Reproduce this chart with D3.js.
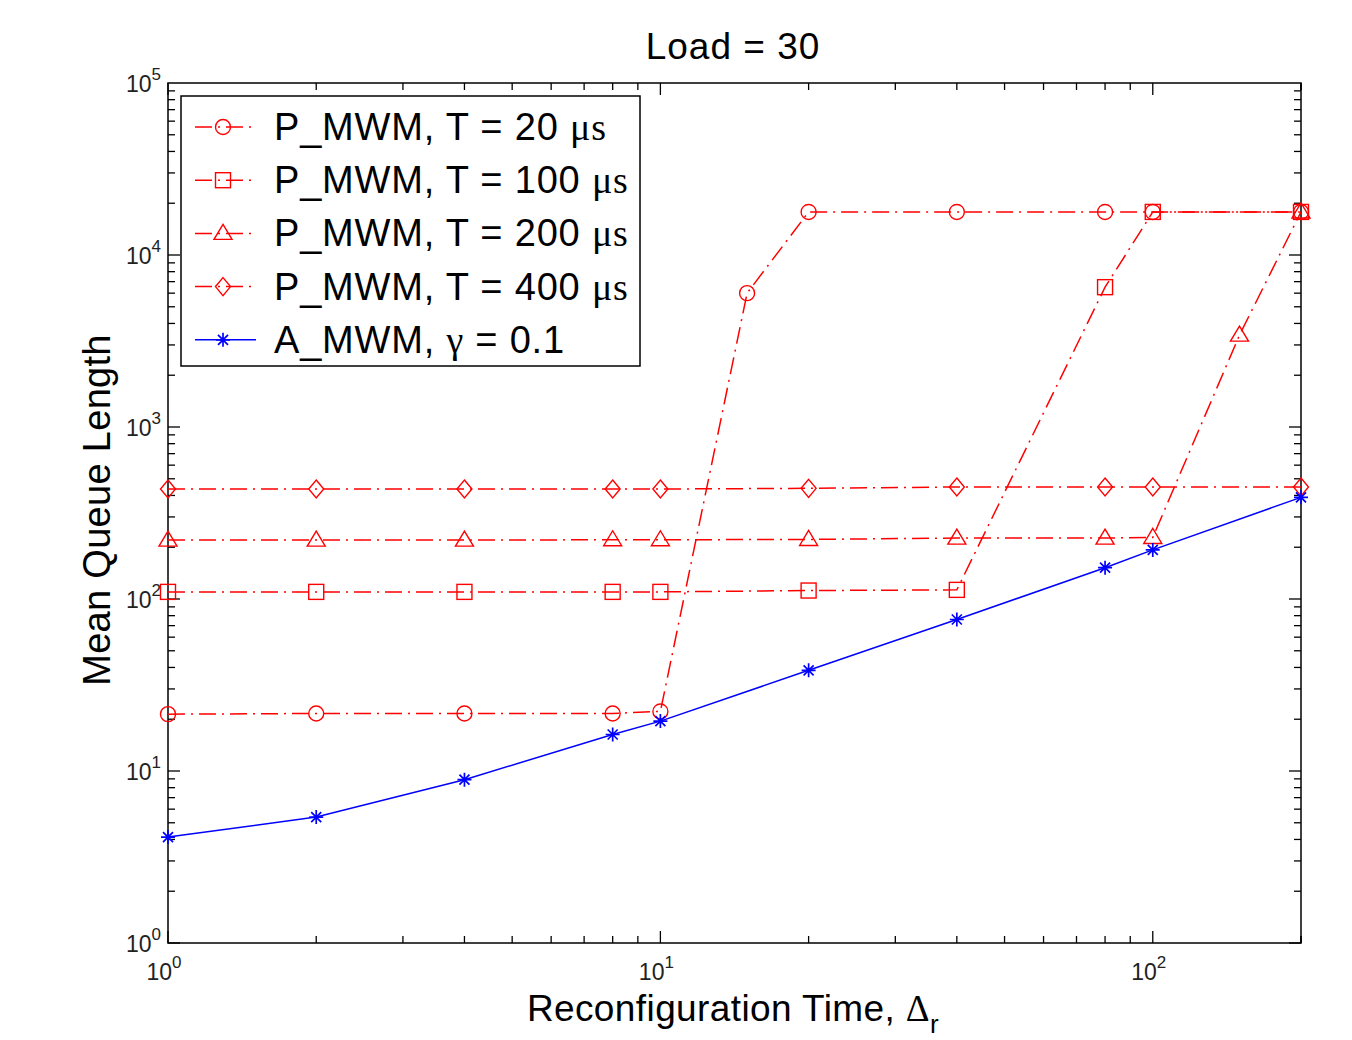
<!DOCTYPE html>
<html>
<head>
<meta charset="utf-8">
<script src="https://cdn.jsdelivr.net/npm/d3@7"></script>
<style>
  body { margin: 0; background: #fff; }
  svg { display: block; }
</style>
</head>
<body>
<svg id="chart" width="1352" height="1040"></svg>
<script>
// x positions (reconfiguration time)
const xBase = [1, 2, 4, 8, 10, 20, 40, 80, 100, 200];

// P_MWM series (mean queue length)
const xT20 = [1, 2, 4, 8, 10, 15, 20, 40, 80, 100, 200];
const yT20 = [21.4, 21.6, 21.6, 21.6, 22.2, 6000, 17800, 17800, 17800, 17800, 17800];

const xT100 = [1, 2, 4, 8, 10, 20, 40, 80, 100, 200];
const yT100 = [110, 110, 110, 110, 110, 112, 113, 6500, 17800, 17800];

const xT200 = [1, 2, 4, 8, 10, 20, 40, 80, 100, 150, 200];
const yT200 = [220, 220, 220, 221, 221, 222, 226, 226, 228, 3420, 17800];

const xT400 = [1, 2, 4, 8, 10, 20, 40, 80, 100, 200];
const yT400 = [436, 436, 436, 436, 436, 440, 448, 448, 448, 448];

// A_MWM
const yAMWM = [4.13, 5.4, 8.9, 16.3, 19.5, 38.5, 76, 152, 193, 390];

const yTicks = [1, 10, 100, 1000, 10000, 100000];
const xTicks = [1, 10, 100];

const series = [
  { name: "P_MWM, T = 20 ", unit: "μs", xs: xT20, ys: yT20, color: "red", marker: "circle", dash: true },
  { name: "P_MWM, T = 100 ", unit: "μs", xs: xT100, ys: yT100, color: "red", marker: "square", dash: true },
  { name: "P_MWM, T = 200 ", unit: "μs", xs: xT200, ys: yT200, color: "red", marker: "triangle", dash: true },
  { name: "P_MWM, T = 400 ", unit: "μs", xs: xT400, ys: yT400, color: "red", marker: "diamond", dash: true },
  { name: "A_MWM, ", greek: "γ", tail: " = 0.1", xs: xBase, ys: yAMWM, color: "blue", marker: "star", dash: false }
];

const svg = d3.select("#chart");
const m = { left: 168, right: 1301, top: 83, bottom: 943 };

const x = d3.scaleLog().domain([1, 200]).range([m.left, m.right]);
const y = d3.scaleLog().domain([1, 100000]).range([m.bottom, m.top]);

const sans = "Arial, 'Liberation Sans', Helvetica, sans-serif";
const serif = "'Times New Roman', 'Liberation Serif', serif";

// minor ticks
const xMinor = [];
for (let d = 1; d <= 100; d *= 10)
  for (let k = 1; k <= 9; k++) if (d * k <= 200) xMinor.push(d * k);
xMinor.push(200);
const yMinor = [];
for (let d = 1; d < 100000; d *= 10)
  for (let k = 1; k <= 9; k++) yMinor.push(d * k);

const ticks = svg.append("g").attr("stroke", "#000").attr("stroke-width", 1.3);

xMinor.forEach(v => {
  const px = x(v), L = xTicks.includes(v) ? 12 : 7;
  ticks.append("line").attr("x1", px).attr("x2", px).attr("y1", m.bottom).attr("y2", m.bottom - L);
  ticks.append("line").attr("x1", px).attr("x2", px).attr("y1", m.top).attr("y2", m.top + L);
});
yMinor.forEach(v => {
  const py = y(v), L = yTicks.includes(v) ? 12 : 7;
  ticks.append("line").attr("y1", py).attr("y2", py).attr("x1", m.left).attr("x2", m.left + L);
  ticks.append("line").attr("y1", py).attr("y2", py).attr("x1", m.right).attr("x2", m.right - L);
});

// frame
svg.append("rect")
  .attr("x", m.left).attr("y", m.top)
  .attr("width", m.right - m.left).attr("height", m.bottom - m.top)
  .attr("fill", "none").attr("stroke", "#000").attr("stroke-width", 1.5);

// tick labels
const lbl = svg.append("g").attr("font-family", sans).attr("fill", "#222");
xTicks.forEach(v => {
  const t = lbl.append("text").attr("x", x(v) - 4).attr("y", 980)
    .attr("text-anchor", "middle").attr("font-size", 23);
  t.append("tspan").text("10");
  t.append("tspan").attr("font-size", 17).attr("dy", -12).text(Math.round(Math.log10(v)));
});
yTicks.forEach(v => {
  const t = lbl.append("text").attr("x", 161).attr("y", y(v) + 9)
    .attr("text-anchor", "end").attr("font-size", 23);
  t.append("tspan").text("10");
  t.append("tspan").attr("font-size", 17).attr("dy", -12).text(Math.round(Math.log10(v)));
});

// markers
function drawMarker(g, type, cx, cy, color) {
  const s = g.append("g").attr("stroke", color).attr("fill", "none").attr("stroke-width", 1.4);
  if (type === "circle") s.append("circle").attr("cx", cx).attr("cy", cy).attr("r", 7.5);
  else if (type === "square") s.append("rect").attr("x", cx - 7.5).attr("y", cy - 7.5).attr("width", 15).attr("height", 15);
  else if (type === "triangle") s.append("path").attr("d", `M${cx},${cy - 9}L${cx + 9},${cy + 6}L${cx - 9},${cy + 6}Z`);
  else if (type === "diamond") s.append("path").attr("d", `M${cx},${cy - 9}L${cx + 7.5},${cy}L${cx},${cy + 9}L${cx - 7.5},${cy}Z`);
  else if (type === "star") {
    const r = 7, q = 5;
    s.append("path").attr("stroke-width", 1.7)
      .attr("d", `M${cx - r},${cy}H${cx + r}M${cx},${cy - r}V${cy + r}M${cx - q},${cy - q}L${cx + q},${cy + q}M${cx - q},${cy + q}L${cx + q},${cy - q}`);
  }
}

const line = d3.line().x(d => x(d[0])).y(d => y(d[1]));
const plot = svg.append("g");

series.forEach(s => {
  const pts = s.xs.map((v, i) => [v, s.ys[i]]);
  plot.append("path").datum(pts).attr("d", line)
    .attr("fill", "none").attr("stroke", s.color).attr("stroke-width", 1.5)
    .attr("stroke-dasharray", s.dash ? "17,6,2,6" : null);
  pts.forEach(p => drawMarker(plot, s.marker, x(p[0]), y(p[1]), s.color));
});

// legend
const leg = svg.append("g");
leg.append("rect").attr("x", 181).attr("y", 96).attr("width", 459).attr("height", 270)
  .attr("fill", "#fff").attr("stroke", "#000").attr("stroke-width", 1.5);
series.forEach((s, i) => {
  const ly = 127 + i * 53.2;
  leg.append("line").attr("x1", 195).attr("x2", 256).attr("y1", ly).attr("y2", ly)
    .attr("stroke", s.color).attr("stroke-width", 1.5)
    .attr("stroke-dasharray", s.dash ? "17,6,2,6" : null);
  drawMarker(leg, s.marker, 223, ly, s.color);
  const t = leg.append("text").attr("x", 274).attr("y", ly + 13)
    .attr("font-family", sans).attr("font-size", 38).attr("letter-spacing", 0.8).attr("fill", "#000");
  t.append("tspan").text(s.name);
  if (s.unit) t.append("tspan").attr("font-family", serif).text(s.unit);
  if (s.greek) {
    t.append("tspan").attr("font-family", serif).text(s.greek);
    t.append("tspan").text(s.tail);
  }
});

// title and axis labels
svg.append("text").attr("x", 733).attr("y", 59).attr("text-anchor", "middle")
  .attr("font-family", sans).attr("font-size", 37).attr("letter-spacing", 1)
  .text("Load = 30");

const xl = svg.append("text").attr("x", 733).attr("y", 1021).attr("text-anchor", "middle")
  .attr("font-family", sans).attr("font-size", 37).attr("letter-spacing", 0.4);
xl.append("tspan").text("Reconfiguration Time, ");
xl.append("tspan").attr("font-family", serif).text("Δ");
xl.append("tspan").attr("font-size", 26).attr("dy", 12).text("r");

svg.append("text").attr("transform", "translate(110,510) rotate(-90)")
  .attr("text-anchor", "middle").attr("font-family", sans).attr("font-size", 38)
  .attr("letter-spacing", 0.3)
  .text("Mean Queue Length");
</script>
</body>
</html>
